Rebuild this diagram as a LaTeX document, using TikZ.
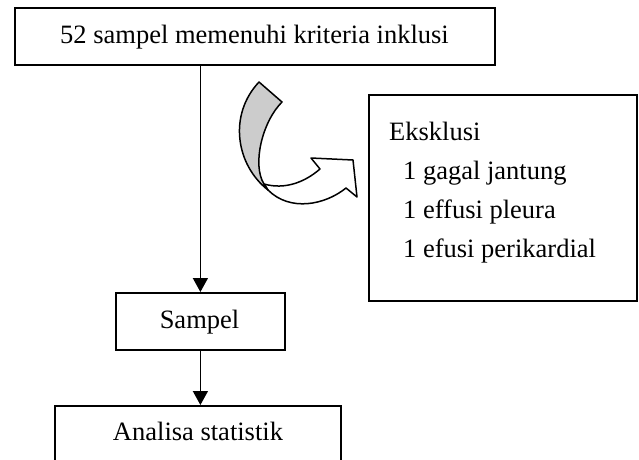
\documentclass[tikz,border=0pt]{standalone}
\usepackage{fontspec}
\setmainfont{Liberation Serif}
\usetikzlibrary{arrows.meta}
\begin{document}
\begin{tikzpicture}[x=1pt,y=-1pt,
  every node/.style={font=\fontsize{26.5}{30}\selectfont},
  box/.style={draw,line width=1.8pt,inner sep=0pt,anchor=north west},
  txt/.style={inner sep=0pt,anchor=base west},
  conn/.style={line width=1.5pt,-{Triangle[width=15pt,length=14pt]}},
  ribbon/.style={draw,line width=1.5pt,line join=round}]
\useasboundingbox (0,0) rectangle (639,459);
\clip (0,0) rectangle (639,459);
% boxes
\node[box,minimum width=480pt,minimum height=57pt] (top) at (14,7) {};
\node[inner sep=0pt,anchor=base] (toptxt) at (254.5,43) {52 sampel memenuhi kriteria inklusi};
\node[box,minimum width=169pt,minimum height=57pt] (sampel) at (115,292) {};
\node[inner sep=0pt,anchor=base] (sampeltxt) at (199.5,328) {Sampel};
\node[box,minimum width=286pt,minimum height=60pt] (ana) at (54,405) {};
\node[inner sep=0pt,anchor=base] (anatxt) at (198,440) {Analisa statistik};
\node[box,minimum width=268pt,minimum height=206pt] (eks) at (368,94) {};
\node[txt] (e0) at (389,140) {Eksklusi};
\node[txt] (e1) at (403,179) {1 gagal jantung};
\node[txt] (e2) at (403,218) {1 effusi pleura};
\node[txt] (e3) at (403,257) {1 efusi perikardial};
% connectors
\draw[conn] (sampel.north |- top.south) -- (sampel.north);
\draw[conn] (sampel.south) -- (sampel.south |- ana.north);
% curved ribbon arrow
\draw[ribbon,fill=white] (264,184) .. controls (285,190) and (305,182) .. (320,169)
  -- (311,158) -- (353,160) -- (357,197) -- (346,188)
  .. controls (325,205) and (290,212) .. (268,190) -- cycle;
\draw[ribbon,fill=black!20] (259,82) -- (282,102)
  .. controls (262,122) and (252,165) .. (264,184) -- (268,190)
  .. controls (236,165) and (228,115) .. (259,82) -- cycle;
\end{tikzpicture}
\end{document}
